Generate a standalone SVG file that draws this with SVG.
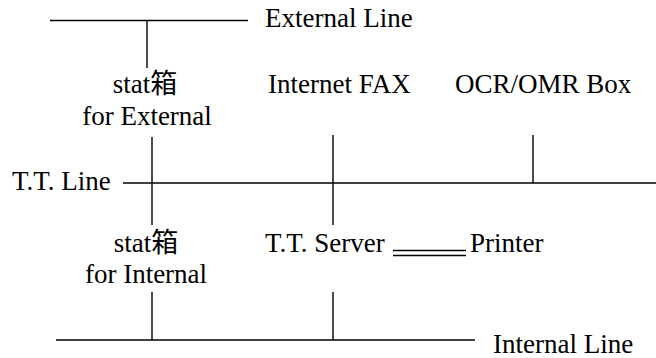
<svg xmlns="http://www.w3.org/2000/svg" width="656" height="358" viewBox="0 0 656 358">
  <style>
    text { font-family: "Liberation Serif", "Times New Roman", "Noto Sans CJK SC", serif; font-size: 27px; fill: #000; }
    .mid { text-anchor: middle; }
    line { stroke: #000; stroke-width: 1.4; fill: none; }
  </style>
  <rect width="656" height="358" fill="#fff"/>

  <!-- connectors: bus lines and drops -->
  <g id="connectors">
    <line x1="50" y1="20.5" x2="248" y2="20.5"/>
    <line x1="147" y1="20.5" x2="147" y2="68"/>
    <line x1="123" y1="183" x2="656" y2="183"/>
    <line x1="152" y1="137" x2="152" y2="225"/>
    <line x1="333" y1="135" x2="333" y2="225"/>
    <line x1="533" y1="135" x2="533" y2="183"/>
    <line x1="56" y1="340" x2="475" y2="340"/>
    <line x1="152" y1="292" x2="152" y2="340"/>
    <line x1="333" y1="292" x2="333" y2="340"/>
    <line x1="393" y1="250.5" x2="466" y2="250.5"/>
    <line x1="393" y1="255.5" x2="466" y2="255.5"/>
  </g>

  <g id="external-line"><text x="265" y="27">External Line</text></g>
  <g id="stat-external">
    <text class="mid" x="145" y="93">stat箱</text>
    <text class="mid" x="147" y="125">for External</text>
  </g>
  <g id="internet-fax"><text x="268" y="93">Internet FAX</text></g>
  <g id="ocr-omr-box"><text x="455" y="93">OCR/OMR Box</text></g>
  <g id="tt-line"><text x="12" y="190">T.T. Line</text></g>
  <g id="stat-internal">
    <text class="mid" x="146" y="252">stat箱</text>
    <text class="mid" x="146" y="283">for Internal</text>
  </g>
  <g id="tt-server"><text x="265" y="252">T.T. Server</text></g>
  <g id="printer"><text x="470" y="252">Printer</text></g>
  <g id="internal-line"><text x="493" y="353">Internal Line</text></g>
</svg>
